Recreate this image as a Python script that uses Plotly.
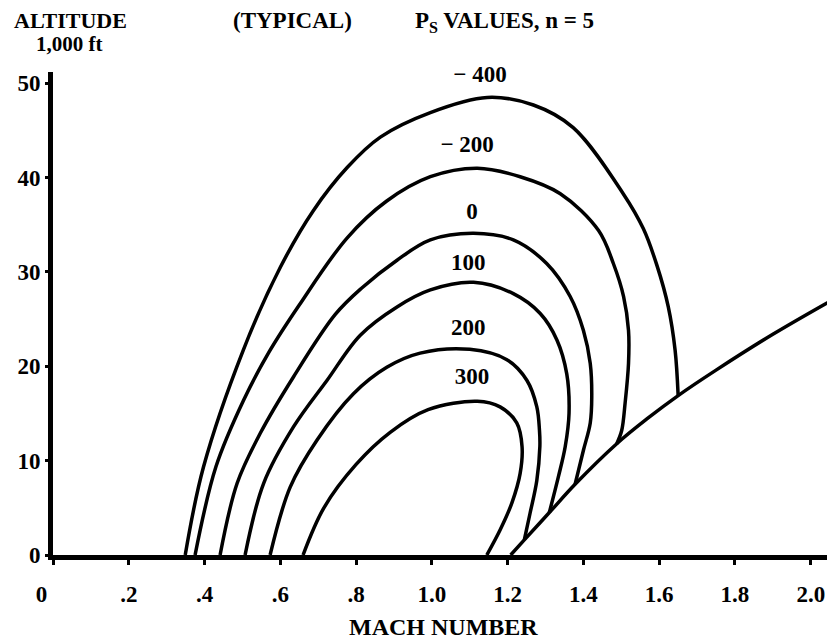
import plotly.graph_objects as go

# ---- data ----
ps_values = ["\u2212 400", "\u2212 200", "0", "100", "200", "300"]

mach_m400 = [0.349, 0.397, 0.502, 0.600, 0.687, 0.777, 0.864, 0.996, 1.146, 1.268, 1.373, 1.505, 1.558, 1.594, 1.624, 1.642, 1.650]
alt_m400 = [0.0, 9.3, 21.7, 30.5, 36.5, 41.1, 44.3, 46.9, 48.5, 47.7, 45.3, 38.3, 34.6, 30.7, 26.3, 21.7, 16.9]

mach_m200 = [0.375, 0.430, 0.503, 0.570, 0.650, 0.776, 0.880, 0.996, 1.12, 1.233, 1.339, 1.44, 1.479, 1.506, 1.519, 1.519, 1.510, 1.501, 1.488]
alt_m200 = [0.0, 9.35, 16.4, 21.5, 26.5, 33.6, 37.5, 40.1, 41.0, 40.1, 38.3, 34.4, 30.9, 27.4, 23.8, 20.3, 16.1, 13.2, 11.8]

mach_0 = [0.441, 0.486, 0.547, 0.635, 0.745, 0.815, 0.908, 0.996, 1.11, 1.215, 1.303, 1.365, 1.400, 1.418, 1.422, 1.418, 1.400, 1.378]
alt_0 = [0.0, 7.6, 12.9, 18.9, 25.5, 28.3, 31.25, 33.4, 34.1, 33.4, 30.9, 27.4, 23.8, 20.3, 16.8, 14.0, 11.1, 7.5]

mach_100 = [0.507, 0.556, 0.635, 0.723, 0.811, 0.908, 0.996, 1.11, 1.215, 1.286, 1.330, 1.356, 1.362, 1.352, 1.334, 1.310]
alt_100 = [0.0, 7.6, 13.6, 18.5, 23.3, 26.3, 28.1, 28.9, 27.7, 25.6, 22.8, 19.2, 15.0, 11.5, 8.3, 4.5]

mach_200 = [0.573, 0.626, 0.697, 0.793, 0.881, 0.969, 1.10, 1.198, 1.251, 1.277, 1.284, 1.285, 1.277, 1.259, 1.244]
alt_200 = [0.0, 7.2, 12.2, 17.1, 19.9, 21.4, 21.8, 20.7, 18.5, 15.7, 13.2, 11.5, 7.9, 4.4, 1.6]

mach_300 = [0.660, 0.715, 0.800, 0.890, 0.990, 1.12, 1.180, 1.224, 1.238, 1.233, 1.211, 1.180, 1.145]
alt_300 = [0.0, 5.0, 9.6, 13.0, 15.4, 16.3, 15.7, 14.0, 11.5, 8.65, 5.5, 2.65, 0.0]

mach_limit = [1.208, 1.244, 1.31, 1.378, 1.488, 1.57, 1.650, 1.75, 1.90, 2.064]
alt_limit = [0.0, 1.6, 4.5, 7.5, 11.8, 14.5, 16.9, 19.6, 23.4, 27.2]

label_mach = [1.127, 1.093, 1.106, 1.096, 1.096, 1.106]
label_alt = [50.8, 43.3, 36.2, 30.8, 23.9, 18.75]

x_ticks = [0, 0.2, 0.4, 0.6, 0.8, 1.0, 1.2, 1.4, 1.6, 1.8, 2.0]
x_ticktext = ["0\u00a0\u00a0\u00a0\u00a0", ".2", ".4", ".6", ".8", "1.0", "1.2", "1.4", "1.6", "1.8", "2.0"]
y_ticks = [0, 10, 20, 30, 40, 50]

FONT = "Liberation Serif"
LINE_W = 3.5
OFF = 8  # page body margin

fig = go.Figure()
curves = [(mach_m400, alt_m400), (mach_m200, alt_m200), (mach_0, alt_0),
          (mach_100, alt_100), (mach_200, alt_200), (mach_300, alt_300),
          (mach_limit, alt_limit)]
for mx, ay in curves:
    fig.add_trace(go.Scatter(x=mx, y=ay, mode="lines",
                             line=dict(color="black", width=LINE_W, shape="spline", smoothing=1.0),
                             showlegend=False, hoverinfo="skip"))

fig.add_trace(go.Scatter(x=label_mach, y=label_alt, mode="text", text=[f"<b>{t}</b>" for t in ps_values],
                         textfont=dict(family=FONT, size=23, color="black"),
                         showlegend=False, cliponaxis=False, hoverinfo="skip"))

W, H = 835 - OFF, 642 - OFF
L, R, T, B = 53 - OFF, 0, 72 - OFF, 87
pw, ph = W - L - R, H - T - B


def px(xp, yp):
    # xp, yp: position in the 835x642 picture
    return (xp - OFF - L) / pw, (H - B - (yp - OFF)) / ph


annots = []
for text, xp, yp, fs in [("<b>ALTITUDE</b>", 70, 20, 22), ("<b>1,000 ft</b>", 69, 44, 21),
                         ("<b>(TYPICAL)</b>", 292, 20, 23),
                         ("<b>P<sub>S</sub> VALUES, n = 5</b>", 505, 22, 23),
                         ("<b>MACH NUMBER</b>", 443, 627, 24)]:
    ax, ay = px(xp, yp)
    annots.append(dict(text=text, x=ax, y=ay, xref="paper", yref="paper",
                       xanchor="center", yanchor="middle", showarrow=False,
                       font=dict(family=FONT, size=fs, color="black")))

fig.update_layout(
    width=W, height=H, margin=dict(l=L, r=R, t=T, b=B, autoexpand=False),
    paper_bgcolor="white", plot_bgcolor="white",
    annotations=annots,
    xaxis=dict(range=[0, 2.064], showgrid=False, zeroline=False,
               showline=True, linecolor="black", linewidth=5,
               ticks="outside", ticklen=5, tickwidth=3, tickcolor="black",
               tickvals=x_ticks, ticktext=[f"<b>{t}</b>" for t in x_ticktext],
               tickfont=dict(family=FONT, size=23, color="black"),
               ticklabelstandoff=9),
    yaxis=dict(range=[0, 51.2], showgrid=False, zeroline=False,
               showline=True, linecolor="black", linewidth=5,
               ticks="outside", ticklen=3, tickwidth=3, tickcolor="black",
               tickvals=y_ticks, ticktext=[f"<b>{v}</b>" for v in y_ticks],
               tickfont=dict(family=FONT, size=23, color="black"),
               ticklabelstandoff=0),
)

fig.write_html("out.html")
